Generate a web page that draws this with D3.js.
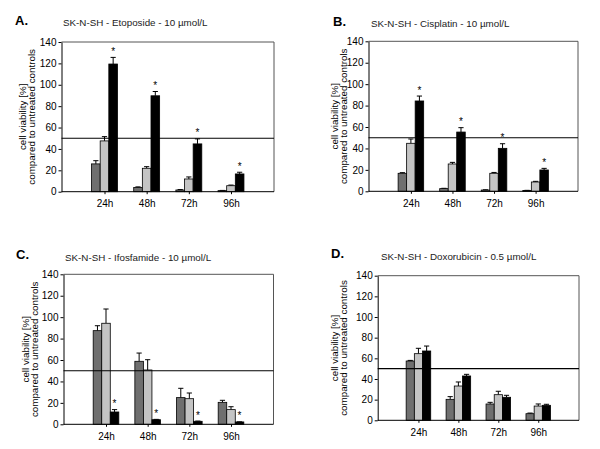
<!DOCTYPE html>
<html>
<head>
<meta charset="utf-8">
<script src="https://cdn.jsdelivr.net/npm/d3@7"></script>
<style>
  body { margin: 0; background: #fff; }
  svg { display: block; font-family: "Liberation Sans", Arial, sans-serif; }
</style>
</head>
<body>
<svg id="chart" width="600" height="449"></svg>
<script>
// ---- data ----
const categories = ["24h", "48h", "72h", "96h"];
const yTicks = [0, 20, 40, 60, 80, 100, 120, 140];
const threshold = 50;

const panelLetters = ["A.", "B.", "C.", "D."];
const panelTitles = [
  "SK-N-SH - Etoposide - 10 µmol/L",
  "SK-N-SH - Cisplatin - 10 µmol/L",
  "SK-N-SH - Ifosfamide - 10 µmol/L",
  "SK-N-SH - Doxorubicin - 0.5 µmol/L"
];
const yLabelLines = ["cell viability [%]", "compared to untreated controls"];

// Etoposide
const etoDark = [26, 4, 1.6, 1];
const etoDarkErr = [3, 0.5, 0.4, 0.2];
const etoLight = [47.5, 21.9, 11.9, 5.6];
const etoLightErr = [4, 1.5, 1.9, 0.6];
const etoBlack = [119.4, 89.7, 44.7, 16.6];
const etoBlackErr = [6.2, 4, 4.7, 1.6];
const etoSig = [1, 1, 1, 1];

// Cisplatin
const cisDark = [16.8, 2.5, 1.2, 0.8];
const cisDarkErr = [0.6, 0.3, 0.2, 0.1];
const cisLight = [44.8, 25.5, 16.8, 8.7];
const cisLightErr = [4, 1.5, 0.8, 0.6];
const cisBlack = [84.3, 55.3, 40.1, 19.9];
const cisBlackErr = [4.6, 4.1, 4.3, 1.5];
const cisSig = [1, 1, 1, 1];

// Ifosfamide
const ifoDark = [87.4, 58.8, 24.9, 20.5];
const ifoDarkErr = [4.6, 7.7, 8.7, 1.9];
const ifoLight = [94.3, 50.7, 23.9, 13.7];
const ifoLightErr = [13.3, 9.6, 5.3, 2.7];
const ifoBlack = [11.5, 4.3, 2.8, 2.2];
const ifoBlackErr = [2.2, 0.3, 0.2, 0.1];
const ifoSig = [1, 1, 1, 1];

// Doxorubicin
const doxDark = [57.4, 20.3, 15.8, 6.4];
const doxDarkErr = [0.6, 2.6, 1.6, 0.6];
const doxLight = [64.5, 33.2, 24.8, 13.8];
const doxLightErr = [5.2, 3.9, 3.3, 2];
const doxBlack = [67.1, 42.9, 22.3, 14.5];
const doxBlackErr = [4.8, 1.6, 1.9, 1];
const doxSig = [0, 0, 0, 0];

const seriesColors = ["#6f6f6f", "#c4c4c4", "#000000"];

// ---- layout (per panel) ----
const layouts = [
  { left: 61.5, right: 274, top: 42, bottom: 191.7, letterX: 15, letterY: 25, titleX: 63, titleY: 26, yl1: 25.5, yl2: 35 },
  { left: 368.5, right: 578, top: 41.3, bottom: 191.3, letterX: 333, letterY: 26, titleX: 371, titleY: 26.5, yl1: 337.5, yl2: 347 },
  { left: 63.5, right: 273.5, top: 274.3, bottom: 424.3, letterX: 16, letterY: 259, titleX: 65, titleY: 260.5, yl1: 28.5, yl2: 38 },
  { left: 377.7, right: 579, top: 275.7, bottom: 420.3, letterX: 331, letterY: 258, titleX: 381, titleY: 260, yl1: 337.5, yl2: 347 }
];

const panels = [
  { vals: [etoDark, etoLight, etoBlack], errs: [etoDarkErr, etoLightErr, etoBlackErr], sig: etoSig },
  { vals: [cisDark, cisLight, cisBlack], errs: [cisDarkErr, cisLightErr, cisBlackErr], sig: cisSig },
  { vals: [ifoDark, ifoLight, ifoBlack], errs: [ifoDarkErr, ifoLightErr, ifoBlackErr], sig: ifoSig },
  { vals: [doxDark, doxLight, doxBlack], errs: [doxDarkErr, doxLightErr, doxBlackErr], sig: doxSig }
];

const svg = d3.select("#chart");

panels.forEach((p, i) => {
  const L = layouts[i];
  const g = svg.append("g");

  const x = d3.scalePoint().domain(categories).range([L.left, L.right]).padding(1.02);
  const y = d3.scaleLinear().domain([0, 140]).range([L.bottom, L.top]);
  const step = x.step();
  const bw = step * 0.205;

  // frame (top + right)
  g.append("path")
    .attr("d", `M${L.left},${L.top}H${L.right}V${L.bottom}`)
    .attr("fill", "none").attr("stroke", "#555").attr("stroke-width", 1);

  // bars
  p.vals.forEach((series, s) => {
    series.forEach((v, c) => {
      const cx = x(categories[c]) + (s - 1) * bw;
      const x0 = cx - bw / 2;
      const e = p.errs[s][c];
      // error bar
      g.append("line")
        .attr("x1", cx).attr("x2", cx)
        .attr("y1", y(v)).attr("y2", y(v + e))
        .attr("stroke", "#000").attr("stroke-width", 1);
      g.append("line")
        .attr("x1", cx - 2.6).attr("x2", cx + 2.6)
        .attr("y1", y(v + e)).attr("y2", y(v + e))
        .attr("stroke", "#000").attr("stroke-width", 1);
      g.append("rect")
        .attr("x", x0).attr("width", bw)
        .attr("y", y(v)).attr("height", y(0) - y(v))
        .attr("fill", seriesColors[s])
        .attr("stroke", "#000").attr("stroke-width", 0.8);
      if (s === 2 && p.sig[c]) {
        g.append("text")
          .attr("x", cx).attr("y", y(v + e) - 2.5)
          .attr("text-anchor", "middle")
          .attr("font-size", 10)
          .text("*");
      }
    });
  });

  // threshold line
  g.append("line")
    .attr("x1", L.left).attr("x2", L.right)
    .attr("y1", y(threshold)).attr("y2", y(threshold))
    .attr("stroke", "#000").attr("stroke-width", 1.1);

  // y axis
  const ya = g.append("g").attr("transform", `translate(${L.left},0)`)
    .call(d3.axisLeft(y).tickValues(yTicks).tickSize(3).tickPadding(2).tickSizeOuter(0));
  ya.selectAll("text").attr("font-size", 10).attr("fill", "#000").attr("font-family", "Liberation Sans, Arial, sans-serif");
  ya.selectAll("line, path").attr("stroke", "#000");

  // x axis
  const xa = g.append("g").attr("transform", `translate(0,${L.bottom})`)
    .call(d3.axisBottom(x).tickSize(2.5).tickPadding(6).tickSizeOuter(0));
  xa.select("path.domain").attr("d", `M${L.left},0H${L.right}`);
  xa.selectAll("text").attr("font-size", 10).attr("fill", "#000").attr("font-family", "Liberation Sans, Arial, sans-serif");
  xa.selectAll("line, path").attr("stroke", "#000");

  // panel letter + title
  g.append("text").attr("x", L.letterX).attr("y", L.letterY)
    .attr("font-size", 13).attr("font-weight", "bold").text(panelLetters[i]);
  g.append("text").attr("x", L.titleX).attr("y", L.titleY)
    .attr("font-size", 9.8).attr("fill", "#222").text(panelTitles[i]);

  // y label (two lines)
  const cy = (L.top + L.bottom) / 2;
  [L.yl1, L.yl2].forEach((lx, k) => {
    g.append("text")
      .attr("transform", `translate(${lx},${cy}) rotate(-90)`)
      .attr("text-anchor", "middle")
      .attr("font-size", 9.8)
      .text(yLabelLines[k]);
  });
});
</script>
</body>
</html>
